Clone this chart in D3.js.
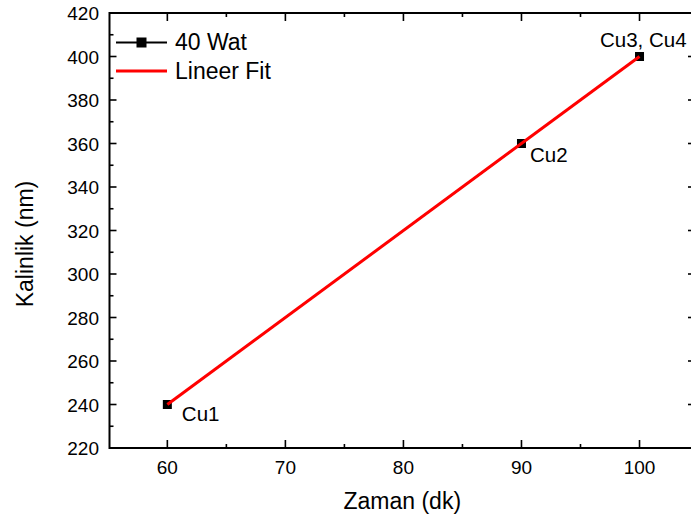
<!DOCTYPE html>
<html>
<head>
<meta charset="utf-8">
<script src="https://cdn.jsdelivr.net/npm/d3@7"></script>
<style>
  html, body { margin: 0; padding: 0; background: #fff; }
  svg { display: block; }
  text { font-family: "Liberation Sans", Arial, sans-serif; fill: #000; }
</style>
</head>
<body>
<svg id="chart" width="691" height="519"></svg>
<script>
// ---- data ----
const times = [60, 90, 100];            // Zaman (dk)
const thickness = [240, 360, 400];      // Kalinlik (nm)
const pointLabels = ["Cu1", "Cu2", "Cu3, Cu4"];
const fitX = [60, 100];
const fitY = [240, 400];
const xMajorTicks = [60, 70, 80, 90, 100];
const xMinorTicks = [65, 75, 85, 95];
const yMajorTicks = [220, 240, 260, 280, 300, 320, 340, 360, 380, 400, 420];
const yMinorTicks = [230, 250, 270, 290, 310, 330, 350, 370, 390, 410];
const seriesNames = ["40 Wat", "Lineer Fit"];

// ---- layout ----
const L = 109.5, R = 695, T = 13, B = 448;
const svg = d3.select("#chart");

const x = d3.scaleLinear().domain([55.1, 104.7]).range([L, R]);
const y = d3.scaleLinear().domain([220, 420]).range([B, T]);

const g = svg.append("g");

function tickLines(sel, vals, len, orient) {
  sel.selectAll(null).data(vals).enter().append("line")
    .attr("stroke", "#000").attr("stroke-width", 1.6)
    .each(function(d) {
      const s = d3.select(this);
      if (orient === "bottom") s.attr("x1", x(d)).attr("x2", x(d)).attr("y1", B).attr("y2", B - len);
      if (orient === "top") s.attr("x1", x(d)).attr("x2", x(d)).attr("y1", T).attr("y2", T + len);
      if (orient === "left") s.attr("y1", y(d)).attr("y2", y(d)).attr("x1", L).attr("x2", L + len);
      if (orient === "right") s.attr("y1", y(d)).attr("y2", y(d)).attr("x1", R).attr("x2", R - len);
    });
}
tickLines(g, xMajorTicks, 8, "bottom");
tickLines(g, xMinorTicks, 4, "bottom");
tickLines(g, xMajorTicks, 8, "top");
tickLines(g, xMinorTicks, 4, "top");
tickLines(g, yMajorTicks, 7, "left");
tickLines(g, yMinorTicks, 4, "left");
tickLines(g, yMajorTicks, 7, "right");
tickLines(g, yMinorTicks, 4, "right");

g.append("rect").attr("x", L).attr("y", T).attr("width", R - L).attr("height", B - T)
  .attr("fill", "none").attr("stroke", "#000").attr("stroke-width", 2);

// tick labels
g.selectAll(".xl").data(xMajorTicks).enter().append("text")
  .attr("x", d => x(d)).attr("y", 474).attr("text-anchor", "middle")
  .attr("font-size", 19).text(d => d);
g.selectAll(".yl").data(yMajorTicks).enter().append("text")
  .attr("x", 99).attr("y", d => y(d) + 7).attr("text-anchor", "end")
  .attr("font-size", 19).text(d => d);

// axis titles
svg.append("text").attr("x", (L + R) / 2).attr("y", 509).attr("text-anchor", "middle")
  .attr("font-size", 23).text("Zaman (dk)");
svg.append("text").attr("transform", "translate(33,244) rotate(-90)")
  .attr("text-anchor", "middle").attr("font-size", 23).text("Kalinlik (nm)");

// data series
const pts = times.map((t, i) => ({ x: t, y: thickness[i], label: pointLabels[i] }));
const line = d3.line().x(d => x(d.x)).y(d => y(d.y));
svg.append("path").datum(pts).attr("d", line).attr("fill", "none")
  .attr("stroke", "#000").attr("stroke-width", 1.5);
const ms = 9;
svg.selectAll(".pt").data(pts).enter().append("rect")
  .attr("x", d => x(d.x) - ms / 2).attr("y", d => y(d.y) - ms / 2)
  .attr("width", ms).attr("height", ms).attr("fill", "#000");

// fit line
const fit = fitX.map((v, i) => ({ x: v, y: fitY[i] }));
svg.append("path").datum(fit).attr("d", line).attr("fill", "none")
  .attr("stroke", "#ff0000").attr("stroke-width", 3);

// point labels
const labelOffsets = [[14.5, 16], [8.5, 18], [-39.5, -9.5]];
svg.selectAll(".pl").data(pts).enter().append("text")
  .attr("x", (d, i) => x(d.x) + labelOffsets[i][0])
  .attr("y", (d, i) => y(d.y) + labelOffsets[i][1])
  .attr("font-size", 20.5).text(d => d.label);

// legend
const lg = svg.append("g");
lg.append("line").attr("x1", 116).attr("x2", 167).attr("y1", 42.5).attr("y2", 42.5)
  .attr("stroke", "#000").attr("stroke-width", 2);
lg.append("rect").attr("x", 141.5 - 5).attr("y", 42.5 - 5).attr("width", 10).attr("height", 10).attr("fill", "#000");
lg.append("text").attr("x", 175).attr("y", 50).attr("font-size", 23).text(seriesNames[0]);
lg.append("line").attr("x1", 116).attr("x2", 167).attr("y1", 71).attr("y2", 71)
  .attr("stroke", "#ff0000").attr("stroke-width", 3);
lg.append("text").attr("x", 175).attr("y", 79).attr("font-size", 23).text(seriesNames[1]);
</script>
</body>
</html>
